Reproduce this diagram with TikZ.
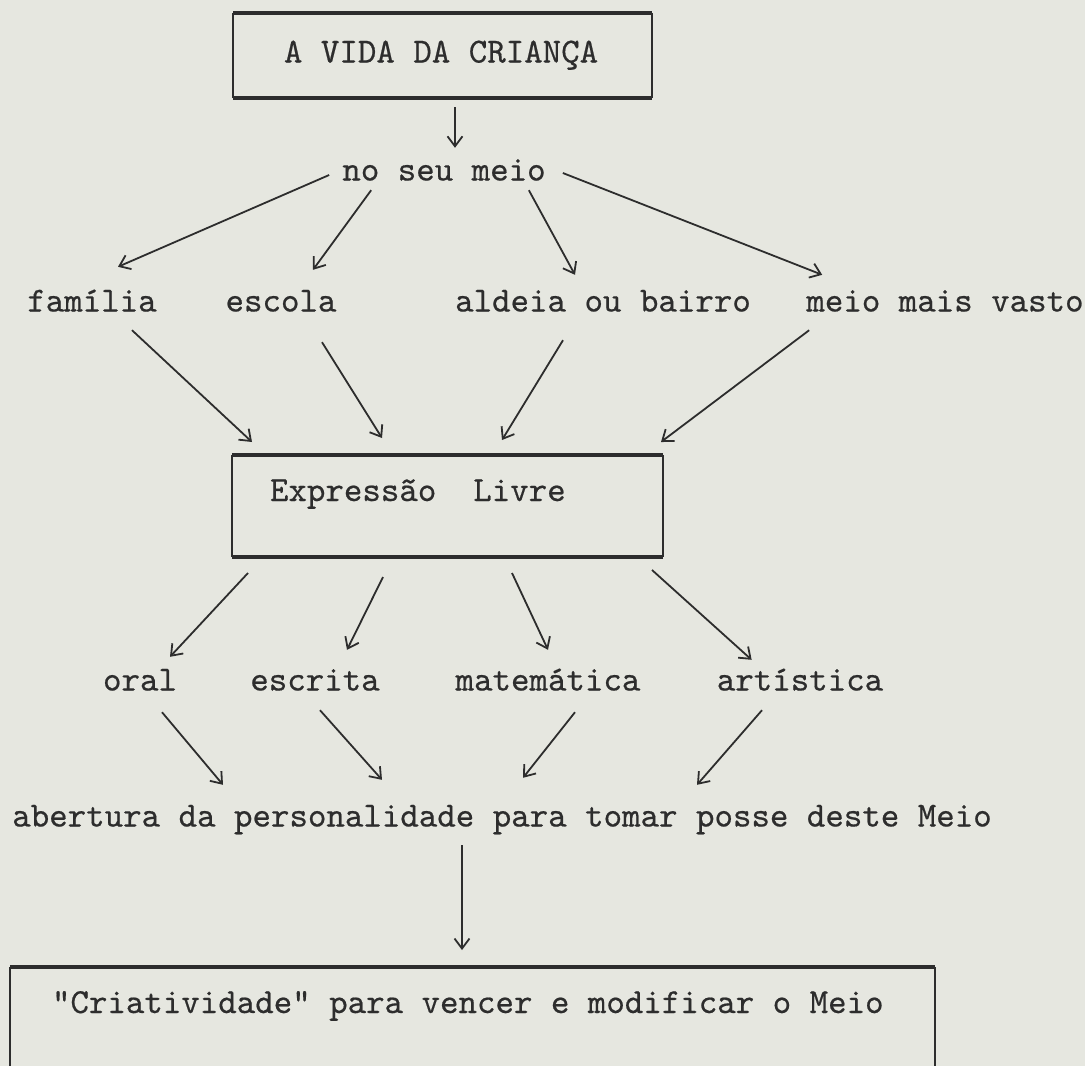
\documentclass[tikz,border=0pt]{standalone}
\usepackage{fontspec}
\setmonofont{lmmono10-regular.otf}[FakeBold=0.5]
\usepackage{tikz}
\usetikzlibrary{arrows.meta}
\usetikzlibrary{calc}

\definecolor{papel}{RGB}{230,231,224}
\definecolor{tinta}{RGB}{45,45,45}
\newcommand{\maquina}{\fontsize{35.2}{42}\selectfont\ttfamily}

\tikzset{
    rotulo/.style={font=\maquina, text=tinta, inner sep=0pt, text height=24pt, text depth=7pt},
    caixa/.style={font=\maquina, text=tinta, anchor=north west, inner ysep=0pt, outer sep=0pt},
    seta/.style={draw=tinta, line width=1.8pt, -{Straight Barb[length=10pt,width=15pt]}}
}

\begin{document}
\begin{tikzpicture}[x=1pt,y=1pt]
            \useasboundingbox (0,0) rectangle (1085,-1066);
            \fill[papel] (0,0) rectangle (1085,-1066);
            \clip (0,0) rectangle (1085,-1066);
            % Caixas
            \node[caixa, inner xsep=51pt, text height=49.5pt, text depth=35.5pt] (vida) at (233,-13) {\makebox[317pt][l]{A VIDA DA CRIANÇA}};
            \node[caixa, inner xsep=38pt, text height=46pt, text depth=56pt] (expr) at (232,-455) {\makebox[355pt][l]{Expressão\ \ Livre}};
            \node[caixa, inner xsep=42pt, text height=46pt, text depth=80pt] (cria) at (10,-967) {\makebox[841pt][l]{"Criatividade" para vencer e modificar o Meio}};
            \foreach \bx in {vida,expr,cria} {
                \draw[tinta, line width=1.3pt] (\bx.north west) -- (\bx.south west);
                \draw[tinta, line width=1.3pt] (\bx.north east) -- (\bx.south east);
                \draw[tinta, line width=3.2pt] (\bx.north west) -- (\bx.north east);
                \draw[tinta, line width=3.2pt] (\bx.south west) -- (\bx.south east);
            }
            % Rotulos
            \node[rotulo] (meio) at (444,-172) {no seu meio};
            \node[rotulo] (familia) at (92,-303) {família};
            \node[rotulo] (escola) at (281,-303) {escola};
            \node[rotulo] (aldeia) at (603,-303) {aldeia ou bairro};
            \node[rotulo] (vasto) at (945,-303) {meio mais vasto};
            \node[rotulo] (oral) at (140,-682) {oral};
            \node[rotulo] (escrita) at (315,-682) {escrita};
            \node[rotulo] (matematica) at (548,-682) {matemática};
            \node[rotulo] (artistica) at (800,-682) {artística};
            \node[rotulo] (abertura) at (502,-818) {abertura da personalidade para tomar posse deste Meio};
            % Setas
            \draw[seta] ([shift={(12.5,-9)}]vida.south) -- ([shift={(11,8.5)}]meio.north);
            \draw[seta] ([shift={(-13,-3)}]meio.west) -- ([shift={(26,20.5)}]familia.north);
            \draw[seta] ([shift={(29,-2.5)}]meio.south west) -- ([shift={(32,17.5)}]escola.north);
            \draw[seta] ([shift={(-17,-2.5)}]meio.south east) -- ([shift={(-28,12.5)}]aldeia.north);
            \draw[seta] ([shift={(17,-1)}]meio.east) -- ([shift={(16,12.5)}]vasto.north west);
            \draw[seta] ([shift={(40,-11.5)}]familia.south) -- ([shift={(20,13)}]expr.north west);
            \draw[seta] ([shift={(41,-23.5)}]escola.south) -- ([shift={(-65.5,17)}]expr.north);
            \draw[seta] ([shift={(-40,-21.5)}]aldeia.south) -- ([shift={(54.5,15)}]expr.north);
            \draw[seta] ([shift={(3,-11.5)}]vasto.south west) -- ([shift={(-2,13)}]expr.north east);
            \draw[seta] ([shift={(16,-16)}]expr.south west) -- ([shift={(30,9.5)}]oral.north);
            \draw[seta] ([shift={(-64.5,-20)}]expr.south) -- ([shift={(32,16.5)}]escrita.north);
            \draw[seta] ([shift={(64.5,-16)}]expr.south) -- ([shift={(0,16.5)}]matematica.north);
            \draw[seta] ([shift={(-11,-13)}]expr.south east) -- ([shift={(35,6.5)}]artistica.north west);
            \draw[seta] ([shift={(22,-14.5)}]oral.south) -- ([shift={(-279,17.5)}]abertura.north);
            \draw[seta] ([shift={(5,-12.5)}]escrita.south) -- ([shift={(-120,22.5)}]abertura.north);
            \draw[seta] ([shift={(27,-14.5)}]matematica.south) -- ([shift={(21,24.5)}]abertura.north);
            \draw[seta] ([shift={(-38,-12.5)}]artistica.south) -- ([shift={(195,17.5)}]abertura.north);
            \draw[seta] ([shift={(-40,-11.5)}]abertura.south) -- ([shift={(-10.5,17)}]cria.north);
        \end{tikzpicture}
\end{document}
